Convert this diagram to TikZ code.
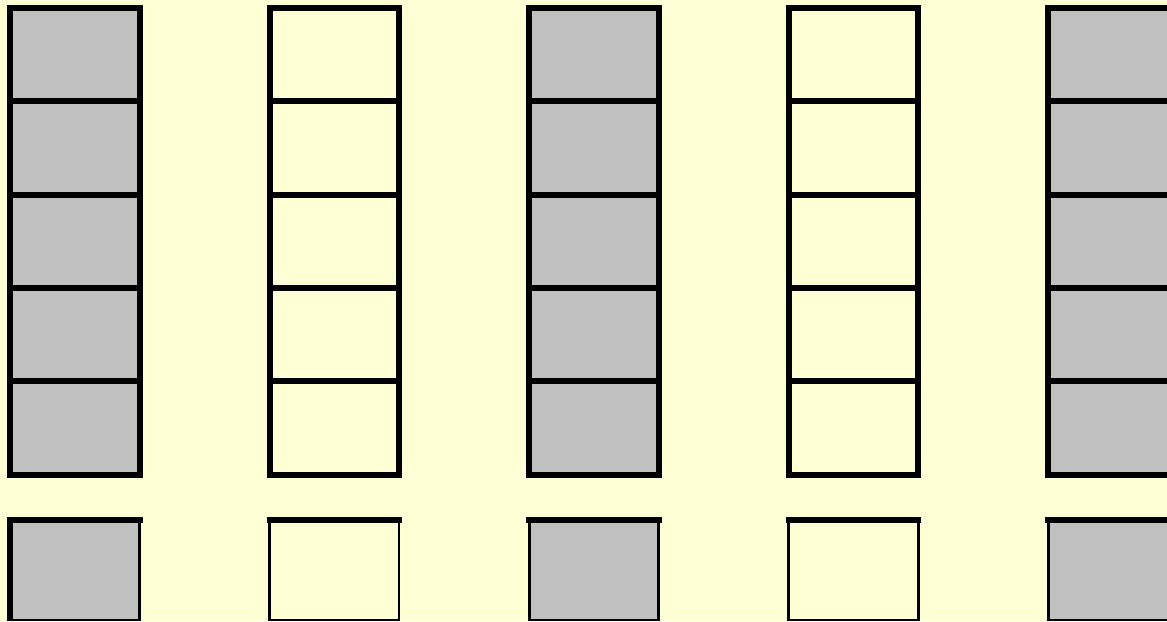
\documentclass[tikz,border=0pt]{standalone}
\definecolor{bgyellow}{RGB}{255,255,213}
\definecolor{cellgray}{RGB}{192,192,192}
\tikzset{
  thickline/.style={draw=black, line width=4.5pt, line join=miter},
  thinline/.style={draw=black, line width=2pt},
}
\begin{document}
\begin{tikzpicture}[x=0.75pt, y=-0.75pt]
  \useasboundingbox (0,0) rectangle (1167,621);
  \fill[bgyellow] (0,0) rectangle (1167,621);
  \clip (0,0) rectangle (1167,621);
  % columns
  \foreach \i/\col in {0/cellgray,1/bgyellow,2/cellgray,3/bgyellow,4/cellgray}{
    \pgfmathsetmacro{\xl}{10+259.6*\i}
    \pgfmathsetmacro{\xr}{\xl+129.5}
    % stack of five cells
    \foreach \j in {0,...,4}{
      \pgfmathsetmacro{\yt}{8+93.3*\j}
      \pgfmathsetmacro{\yb}{\yt+93.3}
      \fill[\col] (\xl,\yt) rectangle (\xr,\yb);
      \draw[thickline] (\xl,\yt) rectangle (\xr,\yb);
    }
    % bottom box
    \fill[\col] (\xl,520) rectangle (\xr,620);
    \draw[thinline] (\xl,520) rectangle (\xr,620);
    \draw[thickline] (\xl-3,520) -- (\xr+3,520);
  }
  \draw[thickline] (10,520) -- (10,621);
\end{tikzpicture}
\end{document}
